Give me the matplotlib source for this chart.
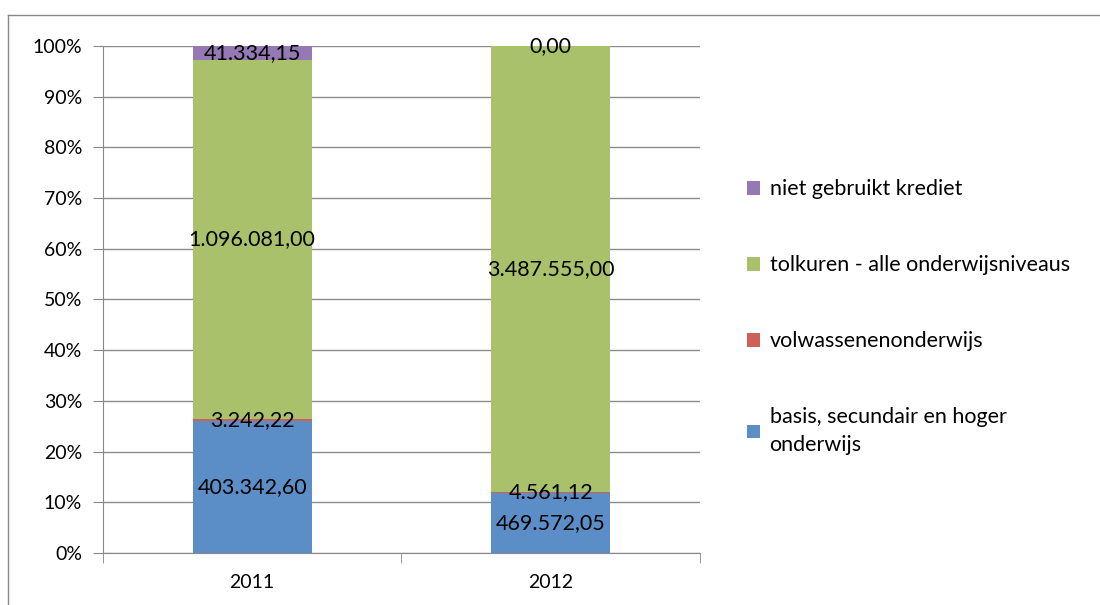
import numpy as np
import matplotlib.pyplot as plt
from matplotlib.lines import Line2D
from matplotlib.patches import Patch

plt.rcParams['font.family'] = ['Lato', 'DejaVu Sans']

years = ["2011", "2012"]
series_names = ["basis, secundair en hoger\nonderwijs", "volwassenenonderwijs",
                "tolkuren - alle onderwijsniveaus", "niet gebruikt krediet"]
basis = [403342.60, 469572.05]
volwassenen = [3242.22, 4561.12]
tolkuren = [1096081.00, 3487555.00]
niet_gebruikt = [41334.15, 0.00]
colors = ["#5B8EC6", "#CF6058", "#A9C16B", "#9579B4"]


def nl(v):
    # dutch number format: 1.234,56
    s = f"{v:,.2f}"
    return s.replace(",", "X").replace(".", ",").replace("X", ".")


data = np.array([basis, volwassenen, tolkuren, niet_gebruikt])
pct = data / data.sum(axis=0) * 100

fig = plt.figure(figsize=(11, 6.05), dpi=100)
ax = fig.add_axes([0.0936, 0.086, 0.5427, 0.838])

x = np.arange(len(years))
bottom = np.zeros(len(years))
for i in range(len(series_names)):
    ax.bar(x, pct[i], 0.4, bottom=bottom, color=colors[i], zorder=2)
    for j in range(len(years)):
        ax.text(x[j], bottom[j] + pct[i][j] / 2, nl(data[i][j]), ha="center", va="center",
                fontsize=15.5, color="black", zorder=3)
    bottom += pct[i]

ax.set_xlim(-0.5, 1.5)
ax.set_ylim(0, 100)
ax.set_yticks(np.arange(0, 101, 10))
ax.set_yticklabels([f"{v}%" for v in range(0, 101, 10)], fontsize=14)
ax.set_xticks(x)
ax.set_xticklabels(years, fontsize=14)
ax.set_xticks([-0.5, 0.5, 1.5], minor=True)
ax.tick_params(axis="x", which="major", length=0, pad=15)
ax.tick_params(axis="x", which="minor", length=7, color="#888888", direction="out")
ax.tick_params(axis="y", length=7, color="#888888", pad=8)
ax.yaxis.grid(True, color="#8c8c8c", linewidth=1, zorder=0)
ax.set_axisbelow(True)
for s in ["top", "right"]:
    ax.spines[s].set_visible(False)
for s in ["left", "bottom"]:
    ax.spines[s].set_color("#888888")

handles = [Patch(facecolor=colors[i], edgecolor="none") for i in range(3, -1, -1)]
labels = [series_names[i] for i in range(3, -1, -1)]
leg = fig.legend(handles, labels, loc="center left", bbox_to_anchor=(0.679, 0.476),
                 frameon=False, fontsize=15.5, labelspacing=2.6, handlelength=0.6,
                 handleheight=0.6, handletextpad=0.45, borderpad=0, borderaxespad=0)
for t in leg.get_texts():
    t.set_linespacing(1.45)

# outer frame of the chart
fig.add_artist(Line2D([0.007, 1.0], [0.975, 0.975], color="#888888", lw=1))
fig.add_artist(Line2D([0.007, 0.007], [0.0, 0.975], color="#888888", lw=1))

fig.savefig("out.png", dpi=100)
